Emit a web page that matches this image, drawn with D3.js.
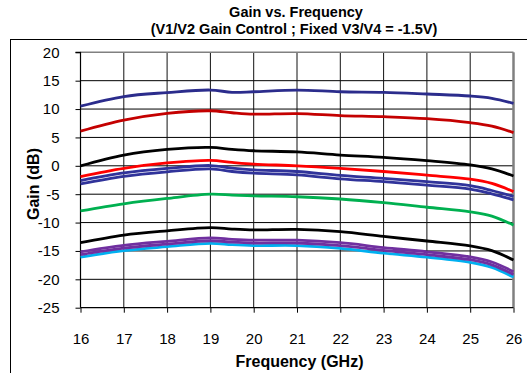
<!DOCTYPE html>
<html>
<head>
<meta charset="utf-8">
<script src="https://cdn.jsdelivr.net/npm/d3@7"></script>
<style>
  html, body { margin: 0; padding: 0; background: #fff; }
  svg { display: block; font-family: "Liberation Sans", Arial, sans-serif; }
</style>
</head>
<body>
<svg id="chart" width="527" height="373"></svg>
<script>
// Frequency sample points (GHz)
const freqs = [16, 17, 18, 19, 19.5, 20, 21, 22, 23, 24, 25, 25.5, 26];

// Gain traces (dB) for each V1/V2 control setting
const gainNavy    = [10.5, 12.2, 12.9, 13.35, 12.95, 13.05, 13.35, 13.05, 12.95, 12.65, 12.3, 11.9, 11.0];
const gainDarkRed = [6.1, 8.05, 9.25, 9.7, 9.35, 9.1, 9.2, 8.85, 8.65, 8.3, 7.6, 7.0, 5.85];
const gainBlack1  = [0.0, 1.9, 2.9, 3.25, 2.9, 2.65, 2.45, 1.9, 1.5, 0.9, 0.15, -0.55, -1.8];
const gainRed     = [-1.9, -0.45, 0.5, 0.95, 0.6, 0.3, 0.0, -0.45, -1.0, -1.65, -2.35, -3.1, -4.55];
const gainBlueA   = [-2.6, -1.25, -0.45, 0.05, -0.4, -0.7, -1.0, -1.7, -2.2, -2.8, -3.5, -4.35, -5.4];
const gainBlueB   = [-3.2, -1.85, -1.05, -0.55, -1.0, -1.3, -1.6, -2.3, -2.8, -3.4, -4.1, -4.95, -6.0];
const gainGreen   = [-7.95, -6.7, -5.75, -5.0, -5.15, -5.3, -5.45, -5.85, -6.5, -7.3, -8.1, -8.85, -10.45];
const gainBlack2  = [-13.55, -12.2, -11.45, -10.9, -11.15, -11.3, -11.2, -11.6, -12.45, -13.25, -14.1, -14.95, -16.6];
const gainPurpleA = [-15.15, -14.0, -13.3, -12.7, -12.95, -13.1, -13.1, -13.55, -14.4, -15.15, -16.05, -16.95, -18.65];
const gainPurpleB = [-15.65, -14.5, -13.8, -13.2, -13.45, -13.6, -13.6, -14.05, -14.9, -15.65, -16.55, -17.45, -19.15];
const gainCyan    = [-16.1, -14.95, -14.25, -13.65, -13.9, -14.05, -14.05, -14.55, -15.4, -16.1, -17.0, -17.9, -19.6];

// Axis ticks
const xTicks = [16, 17, 18, 19, 20, 21, 22, 23, 24, 25, 26];
const yTicks = [20, 15, 10, 5, 0, -5, -10, -15, -20, -25];

const series = [
  { values: gainNavy,    color: "#2B2C8C" },
  { values: gainDarkRed, color: "#C40000" },
  { values: gainBlack1,  color: "#000000" },
  { values: gainRed,     color: "#FF0000" },
  { values: gainBlueA,   color: "#30339A" },
  { values: gainBlueB,   color: "#30339A" },
  { values: gainGreen,   color: "#00B050" },
  { values: gainBlack2,  color: "#000000" },
  { values: gainCyan,    color: "#00B0F0" },
  { values: gainPurpleA, color: "#7030A0" },
  { values: gainPurpleB, color: "#7030A0" }
];

const svg = d3.select("#chart");

const plotL = 80.5, plotR = 513.5, plotT = 52.3, plotB = 307.7;
const x = d3.scaleLinear().domain([16, 26]).range([plotL, plotR]);
const y = d3.scaleLinear().domain([-25, 20]).range([plotB, plotT]);

// Outer chart-area frame
svg.append("rect")
  .attr("x", 10.5).attr("y", 39.5)
  .attr("width", 540).attr("height", 360)
  .attr("fill", "none").attr("stroke", "#000").attr("stroke-width", 1);

// Title (two lines)
svg.append("text")
  .attr("x", 296).attr("y", 17)
  .attr("text-anchor", "middle")
  .attr("font-weight", "bold").attr("font-size", 14.5)
  .text("Gain vs. Frequency");
svg.append("text")
  .attr("x", 294).attr("y", 34)
  .attr("text-anchor", "middle")
  .attr("font-weight", "bold").attr("font-size", 14.5)
  .text("(V1/V2 Gain Control ; Fixed V3/V4 = -1.5V)");

// Horizontal gridlines
svg.append("g")
  .selectAll("line")
  .data(yTicks.filter(d => d > -25 && d < 20))
  .join("line")
  .attr("x1", plotL).attr("x2", plotR)
  .attr("y1", d => y(d)).attr("y2", d => y(d))
  .attr("stroke", "#000").attr("stroke-width", 1);

// Vertical gridlines
svg.append("g")
  .selectAll("line")
  .data(xTicks.filter(d => d > 16 && d < 26))
  .join("line")
  .attr("x1", d => x(d)).attr("x2", d => x(d))
  .attr("y1", plotT).attr("y2", plotB)
  .attr("stroke", "#111").attr("stroke-width", 1);

// Plot border (top and right in gray)
svg.append("line")
  .attr("x1", plotL).attr("x2", plotR).attr("y1", plotT).attr("y2", plotT)
  .attr("stroke", "#808080").attr("stroke-width", 1.5);
svg.append("line")
  .attr("x1", plotR).attr("x2", plotR).attr("y1", plotT).attr("y2", plotB)
  .attr("stroke", "#808080").attr("stroke-width", 2.5);

// Y axis
const yAxis = d3.axisLeft(y).tickValues(yTicks).tickSize(5).tickPadding(16).tickFormat(d3.format("d"));
const gy = svg.append("g").attr("transform", `translate(${plotL},0)`).call(yAxis);
gy.select(".domain").attr("stroke", "#000").attr("stroke-width", 1.2).attr("d", `M-5,${plotT}H0V${plotB}`);
gy.selectAll(".tick line").attr("stroke", "#000");
gy.selectAll(".tick text")
  .attr("font-family", "Liberation Sans, Arial, sans-serif")
  .attr("font-size", 15).attr("fill", "#000")
  .text(d => d < 0 ? "-" + Math.abs(d) : d);

// X axis
const xAxis = d3.axisBottom(x).tickValues(xTicks).tickSize(5).tickPadding(20.5).tickFormat(d3.format("d"));
const gx = svg.append("g").attr("transform", `translate(0,${plotB})`).call(xAxis);
gx.select(".domain").attr("stroke", "#000").attr("stroke-width", 1.2).attr("d", `M${plotL},0H${plotR}`);
gx.selectAll(".tick line").attr("stroke", "#000");
gx.selectAll(".tick text")
  .attr("font-family", "Liberation Sans, Arial, sans-serif")
  .attr("font-size", 15).attr("fill", "#000");

// Axis titles
svg.append("text")
  .attr("transform", "translate(38.5,184) rotate(-90)")
  .attr("text-anchor", "middle")
  .attr("font-weight", "bold").attr("font-size", 16)
  .text("Gain (dB)");
svg.append("text")
  .attr("x", 299.5).attr("y", 367)
  .attr("text-anchor", "middle")
  .attr("font-weight", "bold").attr("font-size", 16)
  .text("Frequency (GHz)");

// Gain traces
const line = d3.line()
  .x((d, i) => x(freqs[i]))
  .y(d => y(d))
  .curve(d3.curveCatmullRom.alpha(0.5));

svg.append("g")
  .selectAll("path")
  .data(series)
  .join("path")
  .attr("d", s => line(s.values))
  .attr("fill", "none")
  .attr("stroke", s => s.color)
  .attr("stroke-width", 2.8)
  .attr("stroke-linejoin", "round")
  .attr("stroke-linecap", "butt");
</script>
</body>
</html>
